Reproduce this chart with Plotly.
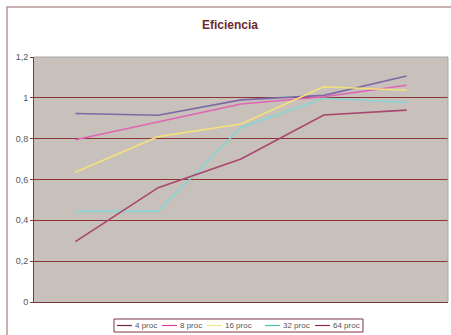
import plotly.graph_objects as go

# Problem sizes along the x axis (labels are not shown on the chart)
sizes = ["1", "2", "3", "4", "5"]

series_names = ["4 proc", "8 proc", "16 proc", "32 proc", "64 proc"]
eff_4 = [0.923, 0.915, 0.99, 1.012, 1.107]
eff_8 = [0.795, 0.884, 0.97, 1.005, 1.062]
eff_16 = [0.636, 0.81, 0.872, 1.054, 1.037]
eff_32 = [0.444, 0.444, 0.855, 0.998, 0.977]
eff_64 = [0.296, 0.56, 0.70, 0.916, 0.94]

y_ticks = [0, 0.2, 0.4, 0.6, 0.8, 1.0, 1.2]
y_tick_text = ["0", "0,2", "0,4", "0,6", "0,8", "1", "1,2"]

colors = ["#7d68a8", "#e064b4", "#f2e27a", "#86d6d4", "#a8476e"]
legend_colors = ["#6a2850", "#e0409a", "#eeea90", "#50c0a8", "#902848"]

W, H = 451, 335
L, R, T, B = 34, 3, 57, 33
pw, ph = W - L - R, H - T - B


def px_x(x):
    return (x - L) / pw


def px_y(y):
    return (H - B - y) / ph


fig = go.Figure()
for name, vals, c in zip(series_names, [eff_4, eff_8, eff_16, eff_32, eff_64], colors):
    fig.add_trace(go.Scatter(
        x=list(range(len(sizes))), y=vals, name=name, mode="lines",
        line=dict(color=c, width=1.6), showlegend=False,
    ))

shapes = [
    # outer chart frame
    dict(type="rect", xref="paper", yref="paper",
         x0=px_x(7), x1=px_x(W + 5), y0=px_y(H + 5), y1=px_y(7),
         line=dict(color="#b89898", width=1.5), layer="below"),
    # plot area frame (top / right)
    dict(type="line", xref="paper", yref="paper", x0=0, x1=1, y0=1, y1=1,
         line=dict(color="#a8a8a8", width=1)),
    dict(type="line", xref="paper", yref="paper", x0=1, x1=1, y0=0, y1=1,
         line=dict(color="#a8a8a8", width=1)),
    # legend box
    dict(type="rect", xref="paper", yref="paper",
         x0=px_x(114), x1=px_x(363), y0=px_y(332), y1=px_y(319),
         line=dict(color="#7a3548", width=1), fillcolor="white"),
]
annotations = []
legend_x = [117, 162, 207, 265, 315]
legend_y = 325.5
for name, c, lx in zip(series_names, legend_colors, legend_x):
    shapes.append(dict(type="line", xref="paper", yref="paper",
                       x0=px_x(lx), x1=px_x(lx + 15), y0=px_y(legend_y), y1=px_y(legend_y),
                       line=dict(color=c, width=1.2)))
    annotations.append(dict(text=name, xref="paper", yref="paper",
                            x=px_x(lx + 16), y=px_y(legend_y), xanchor="left", yanchor="middle",
                            showarrow=False, font=dict(size=8, color="#555555")))

fig.update_layout(
    width=W, height=H,
    margin=dict(l=L, r=R, t=T, b=B, autoexpand=False),
    paper_bgcolor="white",
    plot_bgcolor="#c8c0ba",
    font=dict(family="Liberation Sans, Arial, sans-serif", size=9, color="#555555"),
    title=dict(
        text="<b>Eficiencia</b>", x=px_x(230), xref="paper", xanchor="center",
        y=1 - 25 / H, yanchor="middle",
        font=dict(size=12, color="#6e2a30"),
    ),
    showlegend=False,
    xaxis=dict(
        range=[-0.5, len(sizes) - 0.5], showticklabels=False, showgrid=False,
        zeroline=False, showline=True, linecolor="#7a3a3a", linewidth=1,
        ticks="",
    ),
    yaxis=dict(
        range=[0, 1.2], tickvals=y_ticks, ticktext=y_tick_text,
        showgrid=True, gridcolor="#8e3434", gridwidth=1,
        zeroline=False, showline=True, linecolor="#7a3a3a", linewidth=1,
        ticks="outside", ticklen=3, tickcolor="#7a3a3a",
    ),
    shapes=shapes,
    annotations=annotations,
)

fig.write_html("out.html")
